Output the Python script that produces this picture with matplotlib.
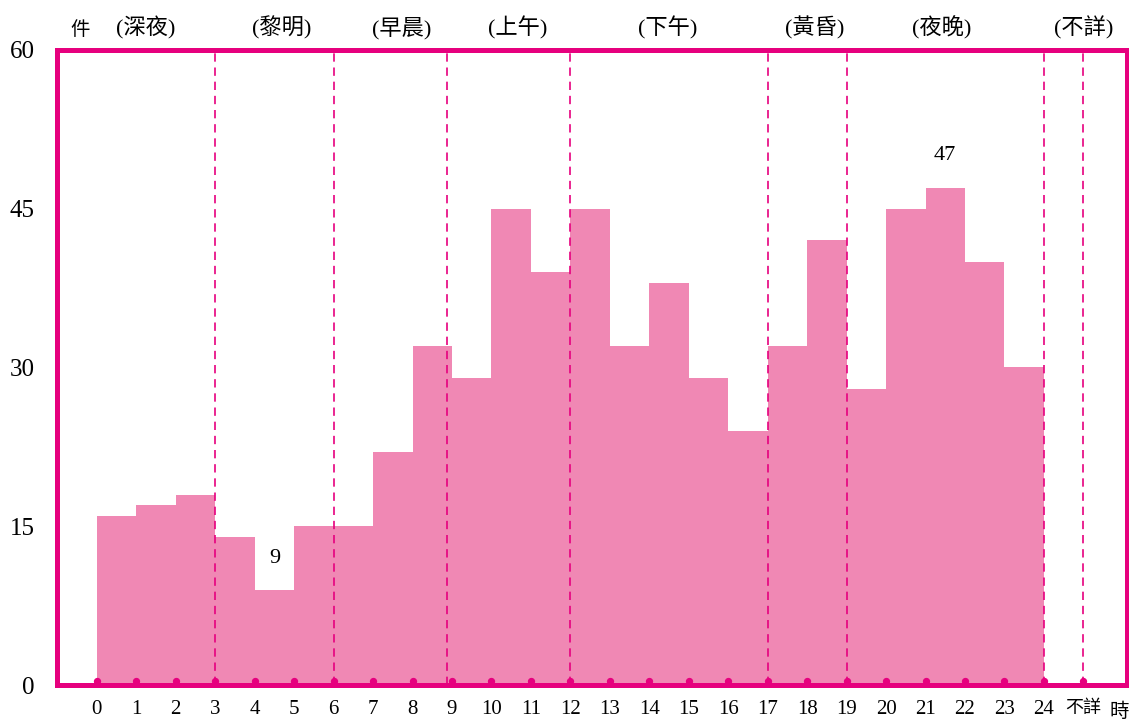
import matplotlib.pyplot as plt

plt.rcParams['font.family'] = ['Liberation Serif', 'Noto Sans CJK TC']

# cases per hour of day
hours = list(range(24))
cases = [16, 17, 18, 14, 9, 15, 15, 22, 32, 29, 45, 39,
         45, 32, 38, 29, 24, 32, 42, 28, 45, 47, 40, 30]
tick_labels = [str(h) for h in range(25)] + ['不詳']

# period boundaries and names
boundaries = [3, 6, 8.88, 12, 17, 19, 24, 25]
periods = ['(深夜)', '(黎明)', '(早晨)', '(上午)', '(下午)', '(黃昏)', '(夜晚)', '(不詳)']
period_x = [1.24, 4.69, 7.73, 10.67, 14.47, 18.2, 21.41, 25.0]

annotated = [4, 21]  # min and max hour

magenta = '#E6007E'
pink = '#F088B4'

fig = plt.figure(figsize=(11.29, 7.21), dpi=100)
ax = fig.add_axes([0.0505, 0.0499, 0.9475, 0.8808])

ax.bar(hours, cases, width=1.0, align='edge', color=pink, linewidth=0, zorder=1)

for b in boundaries:
    ax.axvline(b, color=magenta, lw=1.2, ls=(0, (5, 3.5)), zorder=2)

for h in annotated:
    ax.annotate(str(cases[h]), (h + 0.5, cases[h]), xytext=(0, 16),
                textcoords='offset points', ha='center', va='bottom', fontsize=16)

# small round tick marks sitting on the baseline
ax.scatter(range(26), [0.4] * 26, s=18, color=magenta, zorder=4, clip_on=False)

ax.set_xlim(-1.01, 26.1)
ax.set_ylim(0, 60)
ax.set_yticks([0, 15, 30, 45, 60])
ax.set_xticks(range(26))
ax.set_xticklabels(tick_labels)
ax.tick_params(axis='x', length=0, labelsize=15, pad=11)
ax.tick_params(axis='y', length=0, labelsize=18, pad=16)
for lbl in ax.get_xticklabels()[-1:]:
    lbl.set_fontsize(13)

for s in ax.spines.values():
    s.set_color(magenta)
    s.set_linewidth(3.6)
    s.set_zorder(5)

# period names along the top
for name, x in zip(periods, period_x):
    ax.text(x, 61.0, name, ha='center', va='bottom', fontsize=16, clip_on=False)
ax.text(-0.43, 61.0, '件', ha='center', va='bottom', fontsize=14, clip_on=False)
ax.text(25.9, -2.5, '時', ha='center', va='center', fontsize=14, clip_on=False)

fig.savefig('out.png', dpi=100)
